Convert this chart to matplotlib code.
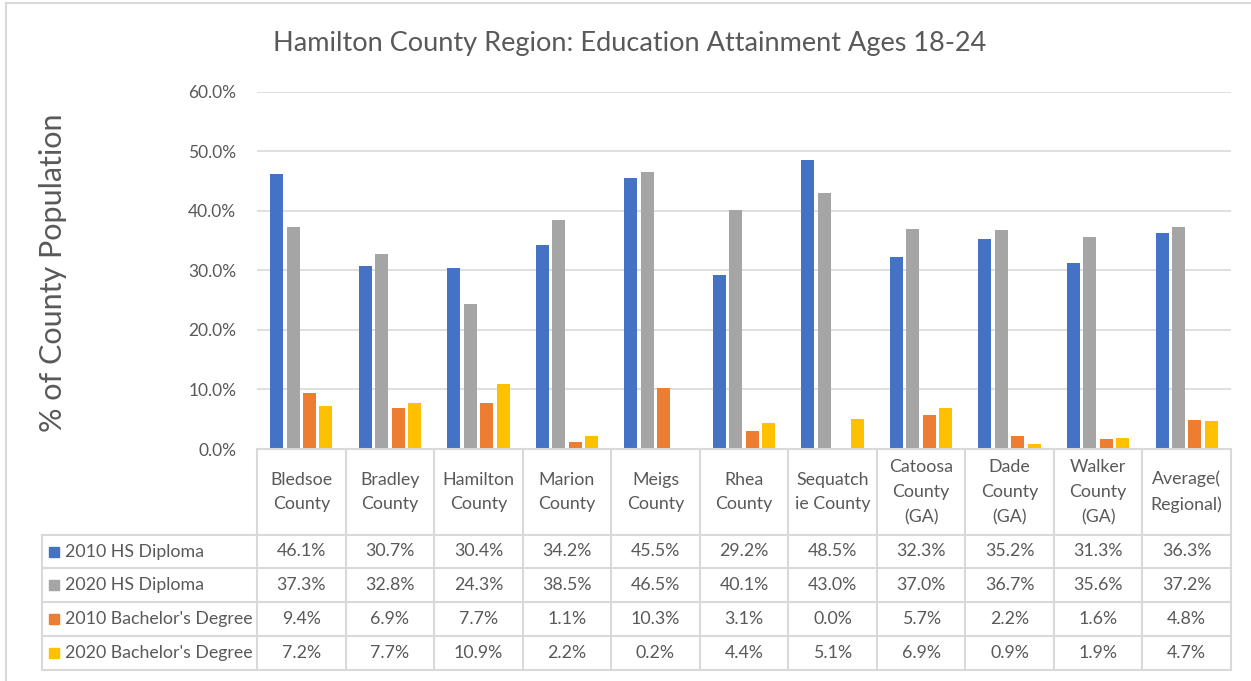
import matplotlib
matplotlib.use("Agg")
import matplotlib.pyplot as plt
from matplotlib.patches import Rectangle
from matplotlib.lines import Line2D

plt.rcParams['font.family'] = ['Lato', 'DejaVu Sans']

categories = ["Bledsoe\nCounty", "Bradley\nCounty", "Hamilton\nCounty", "Marion\nCounty",
              "Meigs\nCounty", "Rhea\nCounty", "Sequatch\nie County", "Catoosa\nCounty\n(GA)",
              "Dade\nCounty\n(GA)", "Walker\nCounty\n(GA)", "Average(\nRegional)"]
series_names = ["2010 HS Diploma", "2020 HS Diploma", "2010 Bachelor's Degree", "2020 Bachelor's Degree"]
hs_2010 = [46.1, 30.7, 30.4, 34.2, 45.5, 29.2, 48.5, 32.3, 35.2, 31.3, 36.3]
hs_2020 = [37.3, 32.8, 24.3, 38.5, 46.5, 40.1, 43.0, 37.0, 36.7, 35.6, 37.2]
ba_2010 = [9.4, 6.9, 7.7, 1.1, 10.3, 3.1, 0.0, 5.7, 2.2, 1.6, 4.8]
ba_2020 = [7.2, 7.7, 10.9, 2.2, 0.2, 4.4, 5.1, 6.9, 0.9, 1.9, 4.7]
yticks = [0, 10, 20, 30, 40, 50, 60]

series = [hs_2010, hs_2020, ba_2010, ba_2020]
colors = ["#4472C4", "#A5A5A5", "#ED7D31", "#FFC000"]
txt = "#595959"
gridc = "#D9D9D9"

W, H = 1251, 681
fig = plt.figure(figsize=(W / 100, H / 100), dpi=100)

def fx(px):
    return px / W

def fy(py):
    return 1 - py / H

left, right, top, bottom = 257, 1231, 91.7, 449
ax = fig.add_axes([fx(left), fy(bottom), fx(right) - fx(left), fy(top) - fy(bottom)])
n = len(categories)
bw = 0.147
pitch = 0.186
for i, (vals, c) in enumerate(zip(series, colors)):
    xs = [k + 0.5 + (i - 1.5) * pitch for k in range(n)]
    ax.bar(xs, vals, width=bw, color=c, zorder=3)
ax.set_xlim(0, n)
ax.set_ylim(0, 60)
ax.set_yticks(yticks)
ax.set_yticklabels([f"{v:.1f}%" for v in yticks], fontsize=12.5, color=txt)
ax.tick_params(axis='y', length=0, pad=15)
ax.set_xticks([])
ax.grid(axis='y', color=gridc, lw=1.2, zorder=0)
for s in ax.spines.values():
    s.set_visible(False)

# y label
fig.text(fx(53), fy(273), "% of County Population", rotation=90, ha='center', va='center',
         fontsize=22, color=txt)
# title
fig.text(fx(630), fy(44), "Hamilton County Region: Education Attainment Ages 18-24",
         ha='center', va='center', fontsize=19.5, color=txt)

# data table
colw = (right - left) / n
row_y = [449, 535, 568, 602, 636, 670]
lw = 1.5

def hline(x0, x1, y):
    fig.add_artist(Line2D([fx(x0), fx(x1)], [fy(y), fy(y)], color=gridc, lw=lw))

def vline(x, y0, y1):
    fig.add_artist(Line2D([fx(x), fx(x)], [fy(y0), fy(y1)], color=gridc, lw=lw))

hline(left, right, row_y[0])
for y in row_y[1:]:
    hline(42, right, y)
for k in range(n + 1):
    vline(left + k * colw, row_y[0], row_y[-1])
vline(42, row_y[1], row_y[-1])

for k, cat in enumerate(categories):
    fig.text(fx(left + (k + 0.5) * colw), fy(492), cat, ha='center', va='center',
             fontsize=12.8, color=txt, linespacing=1.68)

for r, (name, vals, c) in enumerate(zip(series_names, series, colors)):
    yc = (row_y[r + 1] + row_y[r + 2]) / 2
    fig.add_artist(Rectangle((fx(49), fy(yc + 5)), fx(10), 10 / H, color=c,
                             transform=fig.transFigure))
    fig.text(fx(65), fy(yc), name, ha='left', va='center', fontsize=12.8, color=txt)
    for k, v in enumerate(vals):
        fig.text(fx(left + (k + 0.5) * colw), fy(yc), f"{v:.1f}%", ha='center',
                 va='center', fontsize=12.8, color=txt)

# chart border (top and left edges visible)
fig.add_artist(Line2D([fx(6), fx(1251)], [fy(3), fy(3)], color=gridc, lw=1.5))
fig.add_artist(Line2D([fx(6), fx(6)], [fy(3), fy(681)], color=gridc, lw=1.5))

fig.savefig("out.png", dpi=100)
